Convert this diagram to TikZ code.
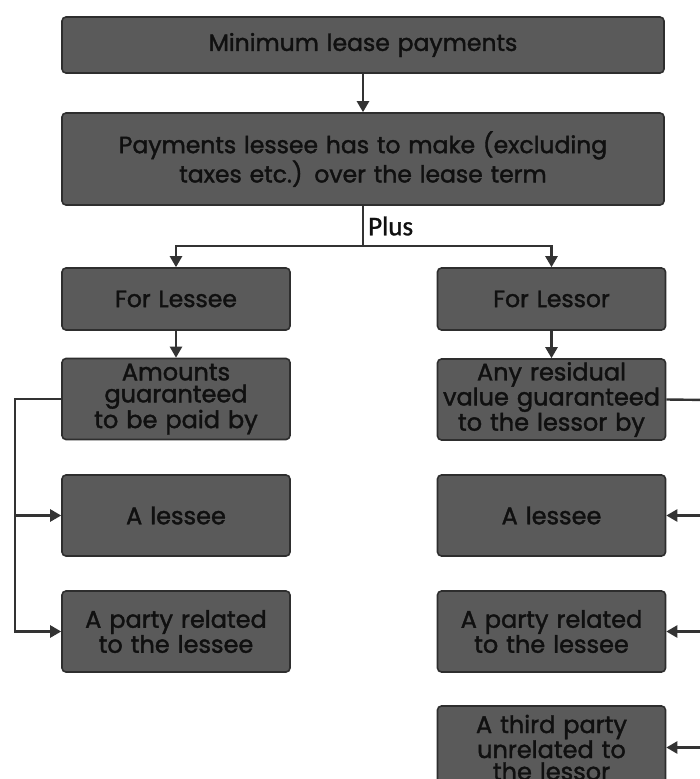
\documentclass[tikz,border=0pt]{standalone}
\usepackage{fontspec}
\setmainfont{Poppins}
\newfontfamily\boxfont{Poppins}[RawFeature={embolden=1.6}]
\newfontfamily\plusfont{Carlito}[RawFeature={embolden=1.2}]
\usetikzlibrary{arrows.meta}
\definecolor{boxfill}{HTML}{5A5A5A}
\definecolor{boxedge}{HTML}{2E2E2E}
\definecolor{linecol}{HTML}{333333}
\definecolor{inkcol}{HTML}{101010}
\begin{document}
\begin{tikzpicture}[x=1pt,y=-1pt,
  box/.style={draw=boxedge, fill=boxfill, line width=1.6pt, rounded corners=4pt,
    text=inkcol, align=center, inner sep=2pt, minimum width=228pt, text width=224pt},
  widebox/.style={box, minimum width=602pt, text width=590pt},
  bigtext/.style={font=\boxfont\fontsize{23.5}{28}\selectfont},
  smalltext/.style={font=\boxfont\fontsize{24}{22}\selectfont},
  conn/.style={draw=linecol, line width=2.4pt},
  arr/.style={conn, -{Triangle[length=11pt,width=12pt]}}]
\useasboundingbox (0,0) rectangle (700,779);
\clip (0,0) rectangle (700,779);
\fill[white] (0,0) rectangle (700,779);

% top of the tree
\node[widebox, bigtext, minimum height=56pt] (mlp) at (363,45) {Minimum lease payments};
\node[widebox, bigtext, minimum height=92pt] (pay) at (363,159)
  {Payments lessee has to make (excluding\\taxes etc.) over the lease term};

% two branches
\node[box, bigtext, minimum height=62pt] (fle) at (176,299) {For Lessee};
\node[box, bigtext, minimum height=62pt] (flo) at (551.5,299) {For Lessor};

% lessee branch
\node[box, smalltext, minimum height=81pt] (amt) at (176,399) {Amounts\\guaranteed\\to be paid by};
\node[box, smalltext, minimum height=81pt] (lles) at (176,515.5) {A lessee};
\node[box, smalltext, minimum height=81pt] (lpar) at (176,631.5) {A party related\\to the lessee};

% lessor branch
\node[box, smalltext, minimum height=81pt] (res) at (551.5,399.5) {Any residual\\value guaranteed\\to the lessor by};
\node[box, smalltext, minimum height=81pt] (rles) at (551.5,515.5) {A lessee};
\node[box, smalltext, minimum height=81pt] (rpar) at (551.5,631.5) {A party related\\to the lessee};
\node[box, smalltext, minimum height=83pt] (rthr) at (551.5,747.5) {A third party\\unrelated to\\the lessor};

% connectors
\draw[arr] (mlp.south) -- (pay.north);
\coordinate (split) at (363,246);
\draw[conn] (pay.south) -- (split);
\node[anchor=west, inner sep=0pt, font=\plusfont\fontsize{27}{27}\selectfont, text=inkcol] (plus) at (368,226) {Plus};
\draw[arr] (split) -| (fle.north);
\draw[arr] (split) -| (flo.north);
\draw[arr] (fle.south) -- (amt.north);
\draw[arr] (flo.south) -- (res.north);

\coordinate (lbus) at (15,399);
\draw[arr] (amt.west) -- (lbus) |- (lpar.west);
\draw[arr] (lbus |- lles.west) -- (lles.west);

\coordinate (rbus) at (710,400);
\draw[conn] (res.east) -- (rbus) -- (rbus |- rthr.east);
\draw[arr] (rbus |- rles.east) -- (rles.east);
\draw[arr] (rbus |- rpar.east) -- (rpar.east);
\draw[arr] (rbus |- rthr.east) -- (rthr.east);
\end{tikzpicture}
\end{document}
